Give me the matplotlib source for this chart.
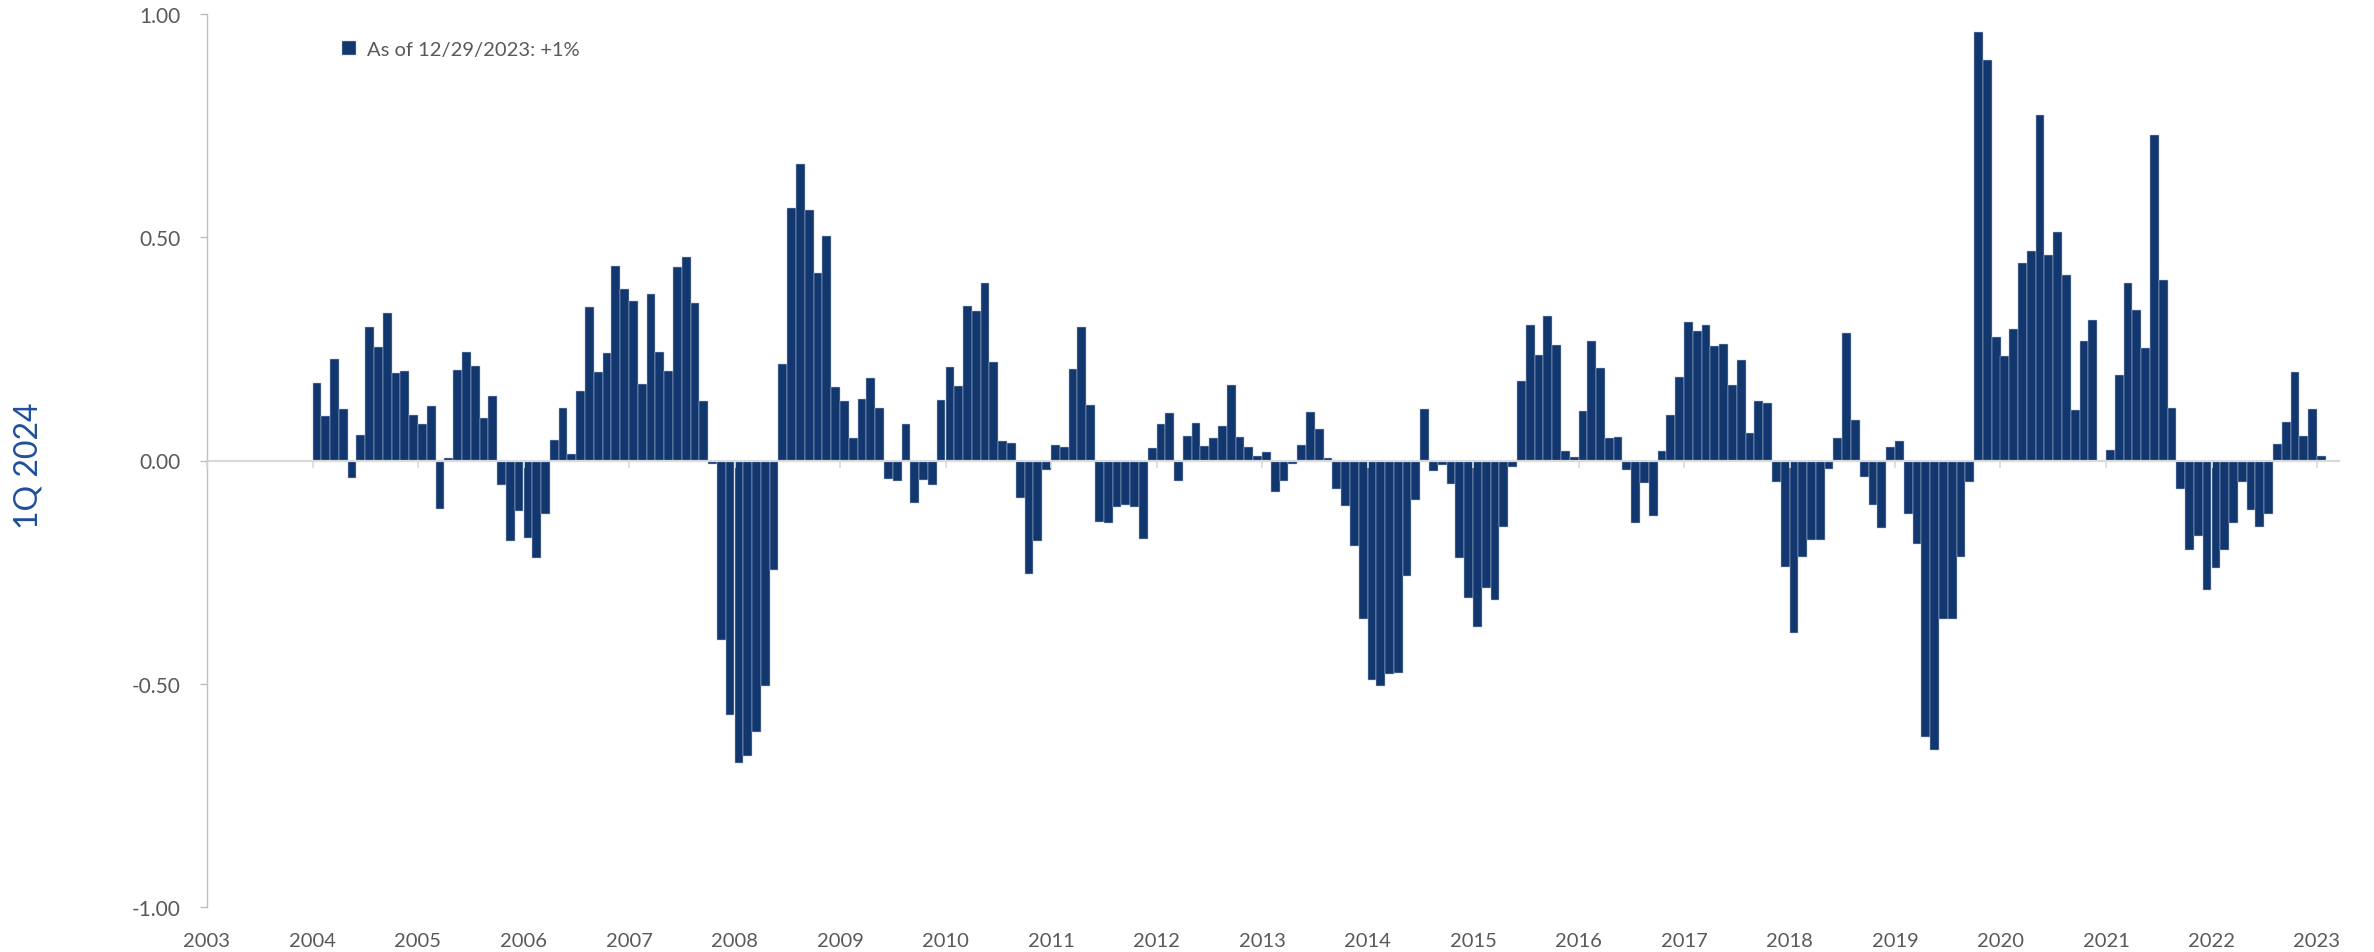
import matplotlib
matplotlib.use("Agg")
import matplotlib.pyplot as plt

plt.rcParams['font.family'] = ['Lato', 'DejaVu Sans']

# -----------------------------------------------------
#  Data (monthly values, first bar sits on the 2004 tick)
# -----------------------------------------------------
values = [
    0.173, 0.100, 0.228, 0.115, -0.039, 0.057, 0.299, 0.255, 0.330, 0.196, 0.200, 0.102,
    0.081, 0.121, -0.109, 0.006, 0.202, 0.242, 0.211, 0.095, 0.144, -0.054, -0.181, -0.113,
    -0.173, -0.218, -0.120, 0.047, 0.118, 0.014, 0.156, 0.343, 0.198, 0.240, 0.436, 0.384,
    0.357, 0.172, 0.373, 0.244, 0.200, 0.434, 0.456, 0.352, 0.133, -0.008, -0.401, -0.571,
    -0.678, -0.662, -0.608, -0.504, -0.245, 0.217, 0.566, 0.663, 0.561, 0.421, 0.503, 0.164,
    0.134, 0.050, 0.138, 0.184, 0.118, -0.041, -0.046, 0.082, -0.096, -0.044, -0.054, 0.136,
    0.209, 0.166, 0.347, 0.334, 0.398, 0.221, 0.044, 0.039, -0.083, -0.255, -0.180, -0.021,
    0.035, 0.030, 0.205, 0.299, 0.125, -0.137, -0.139, -0.105, -0.099, -0.105, -0.175, 0.028,
    0.081, 0.106, -0.045, 0.055, 0.083, 0.033, 0.051, 0.077, 0.169, 0.052, 0.031, 0.009,
    0.019, -0.071, -0.046, -0.007, 0.035, 0.108, 0.071, 0.005, -0.064, -0.101, -0.192, -0.355,
    -0.492, -0.506, -0.479, -0.476, -0.259, -0.088, 0.116, -0.023, -0.011, -0.052, -0.218, -0.308,
    -0.374, -0.285, -0.312, -0.149, -0.015, 0.177, 0.304, 0.236, 0.324, 0.258, 0.021, 0.007,
    0.111, 0.268, 0.208, 0.050, 0.052, -0.022, -0.141, -0.050, -0.124, 0.021, 0.102, 0.186,
    0.310, 0.290, 0.304, 0.257, 0.260, 0.168, 0.226, 0.062, 0.133, 0.128, -0.048, -0.239,
    -0.386, -0.216, -0.179, -0.177, -0.020, 0.051, 0.286, 0.090, -0.036, -0.100, -0.151, 0.031,
    0.043, -0.119, -0.186, -0.619, -0.649, -0.354, -0.354, -0.217, -0.048, 0.960, 0.897, 0.277,
    0.235, 0.295, 0.442, 0.470, 0.774, 0.461, 0.512, 0.415, 0.114, 0.268, 0.314, 0.000,
    0.024, 0.191, 0.397, 0.336, 0.252, 0.729, 0.405, 0.118, -0.063, -0.200, -0.170, -0.290,
    -0.240, -0.200, -0.140, -0.048, -0.110, -0.150, -0.120, 0.036, 0.086, 0.199, 0.055, 0.115,
    0.009,
]
years = list(range(2003, 2024))
y_ticks = [1.0, 0.5, 0.0, -0.5, -1.0]
legend_label = "As of 12/29/2023: +1%"
side_label = "1Q 2024"

bar_color = "#12376f"
grey_text = "#595959"
axis_grey = "#d9d9d9"

# month index: 0 = 2003 tick, bars start at the 2004 tick
x = [12 + i for i in range(len(values))]
year_pos = [12 * (y - years[0]) for y in years]

# -----------------------------------------------------
#  Figure
# -----------------------------------------------------
W, H = 2374, 953
fig = plt.figure(figsize=(W / 100, H / 100), dpi=100)
xmax = 242.5
left_px, top_px, bot_px = 207, 15, 908
px_per_month = (2317 - 207) / 240
ax = fig.add_axes([left_px / W, 1 - bot_px / H, xmax * px_per_month / W, (bot_px - top_px) / H])

ax.bar(x, values, width=1.0, align='edge', color=bar_color,
       edgecolor="#b4c0d3", linewidth=0.35, label=legend_label)

ax.set_xlim(0, xmax)
ax.set_ylim(-1.0, 1.0)

# zero axis with year ticks
ax.set_axisbelow(False)
ax.spines['bottom'].set_position(('data', 0))
ax.spines['bottom'].set_color(axis_grey)
ax.spines['bottom'].set_linewidth(1.6)
ax.spines['top'].set_visible(False)
ax.spines['right'].set_visible(False)
ax.spines['left'].set_color("#bfbfbf")
ax.spines['left'].set_linewidth(1.0)
ax.set_xticks(year_pos)
ax.tick_params(axis='x', direction='out', length=5, width=1.2, color=axis_grey,
               labelbottom=False)

# year labels along the bottom
sec = ax.secondary_xaxis('bottom')
sec.set_xticks(year_pos)
sec.set_xticklabels([str(y) for y in years])
sec.spines['bottom'].set_visible(False)
sec.tick_params(axis='x', length=0, pad=18, labelsize=14.5, labelcolor=grey_text)

ax.set_yticks(y_ticks)
ax.set_yticklabels([f"{v:.2f}" for v in y_ticks])
ax.tick_params(axis='y', direction='out', length=5, width=1.0, color="#bfbfbf",
               labelsize=15, labelcolor=grey_text, pad=14)

fig.text(29 / W, 1 - 466 / H, side_label, rotation=90, ha='center', va='center',
         fontsize=23, color="#1f4e9c")

ax.legend(loc='center left', bbox_to_anchor=(0.0633, 0.96), frameon=False,
          fontsize=14.5, handlelength=0.7, handleheight=0.7, handletextpad=0.55,
          borderpad=0, borderaxespad=0, labelcolor=grey_text)

fig.savefig("out.png", dpi=100)
